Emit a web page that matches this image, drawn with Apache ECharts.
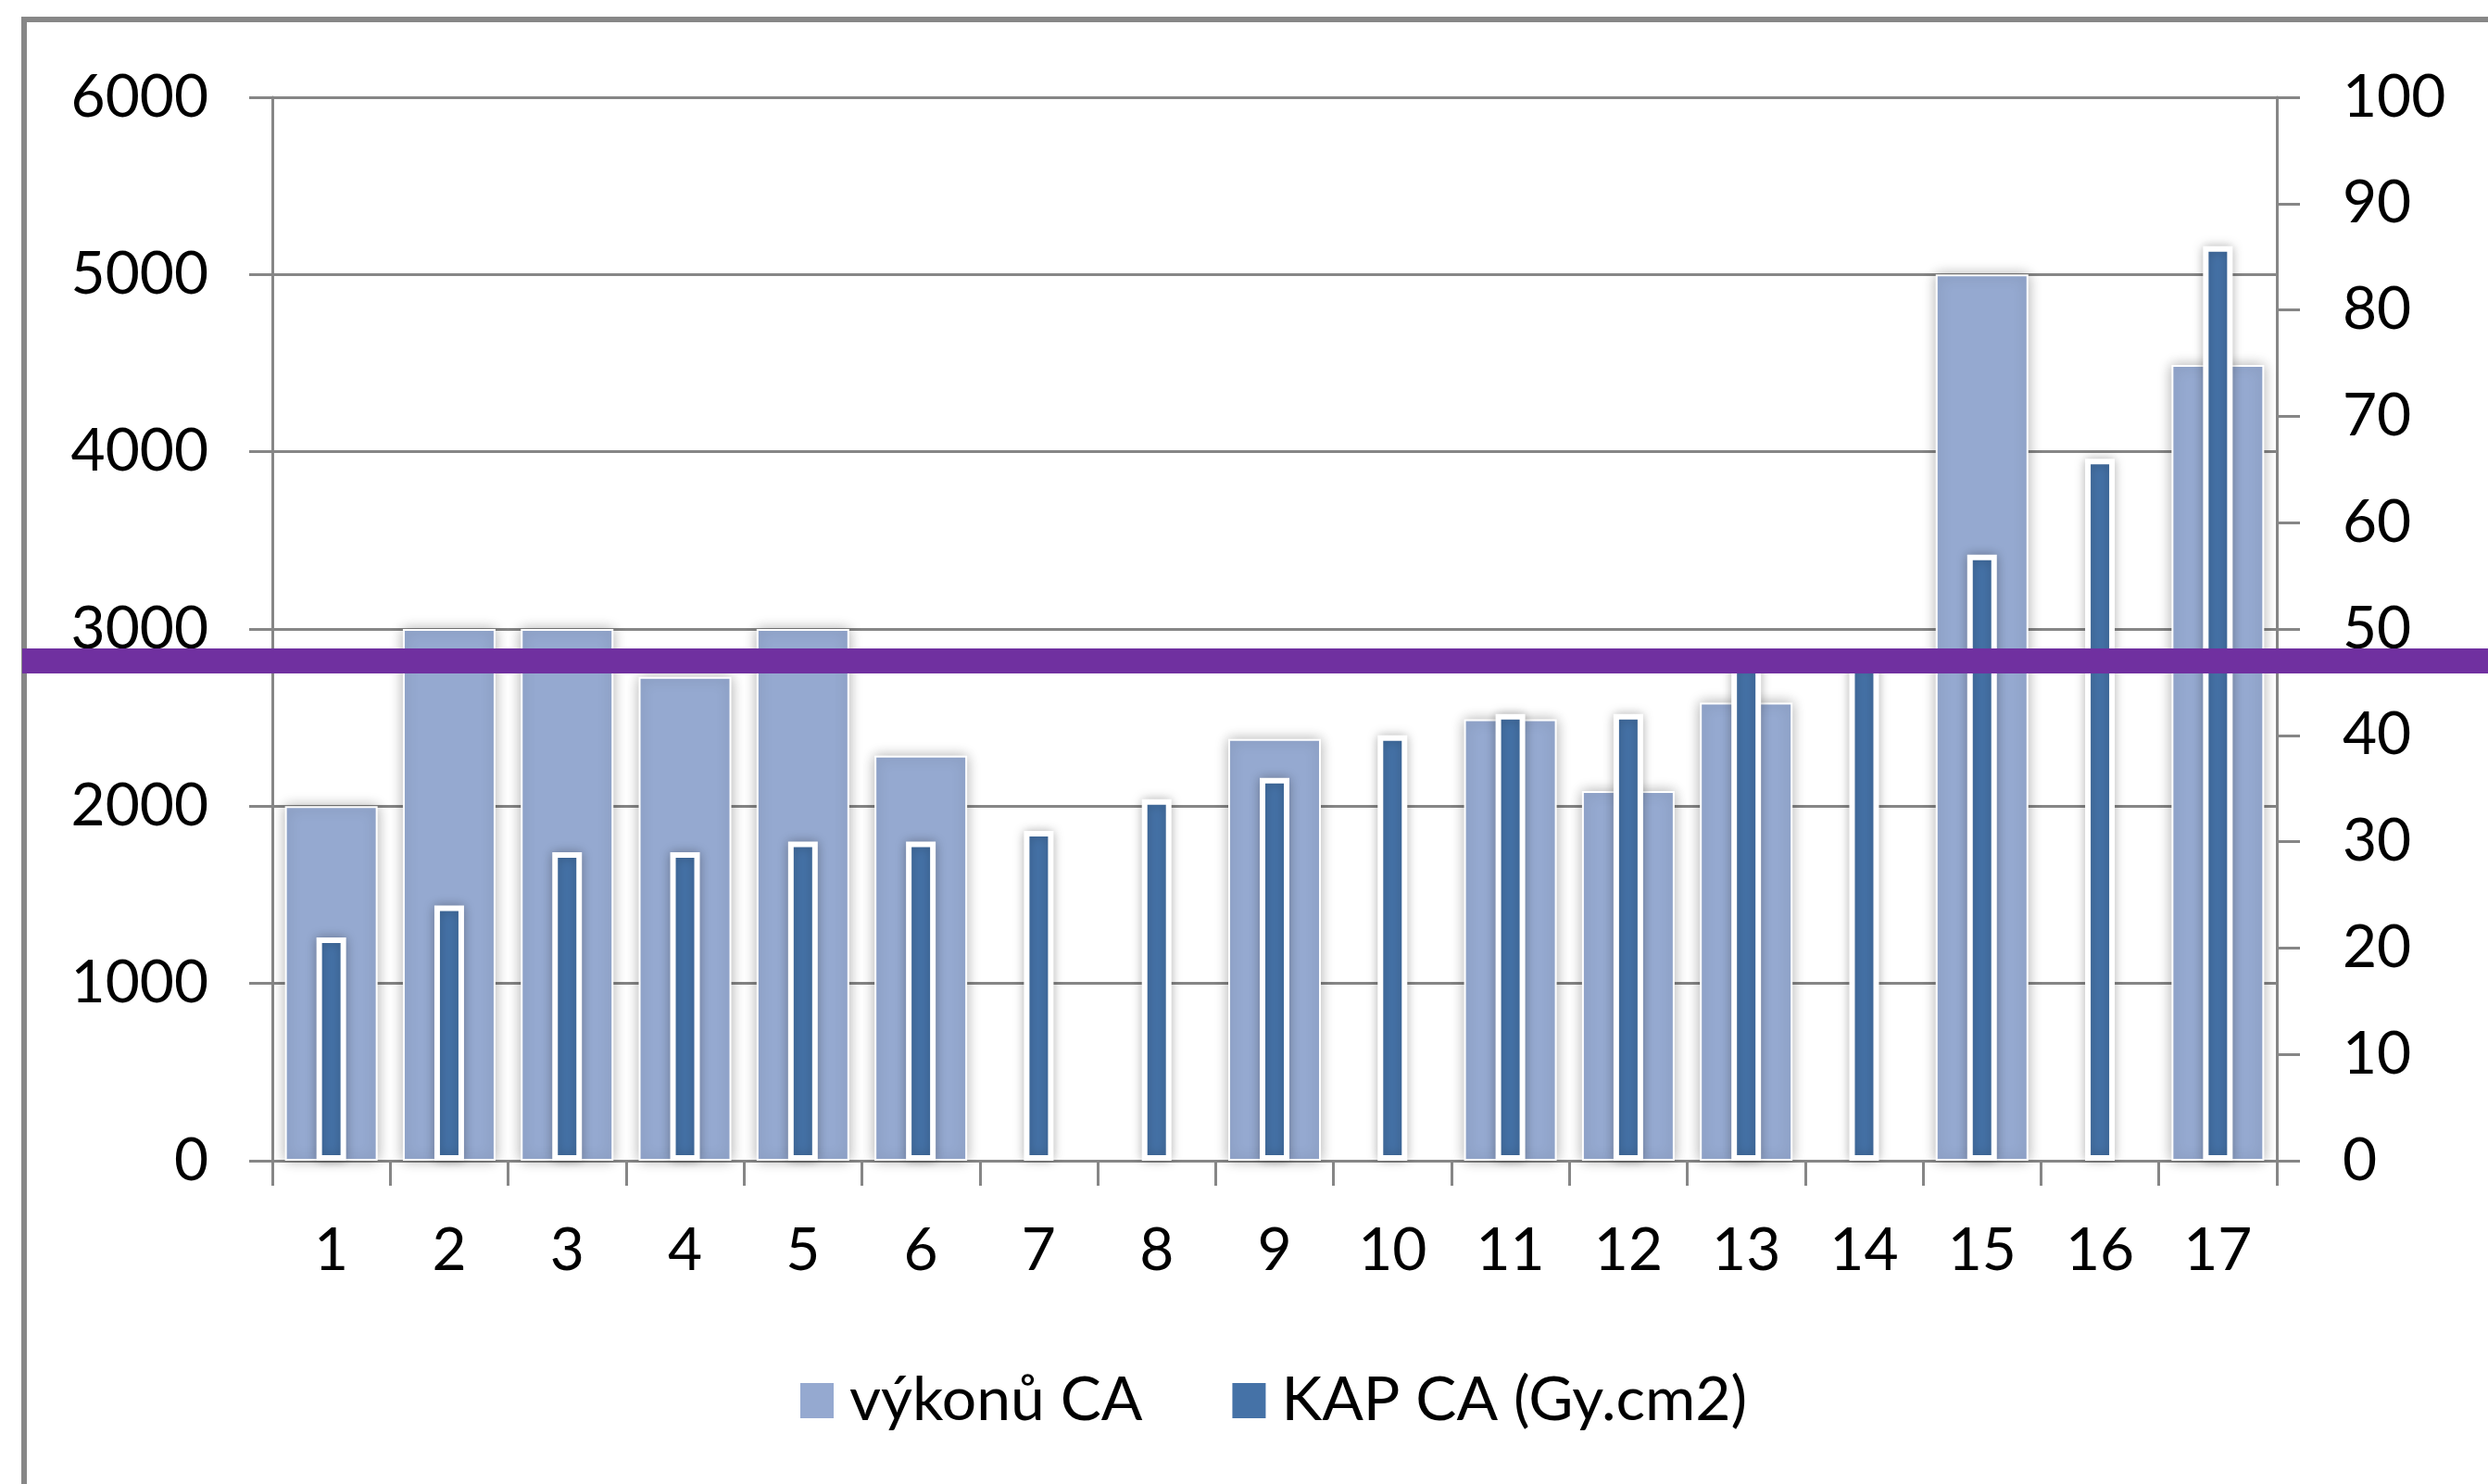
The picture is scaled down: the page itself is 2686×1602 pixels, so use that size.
<!DOCTYPE html>
<html>
<head>
<meta charset="utf-8">
<script src="https://cdn.jsdelivr.net/npm/echarts@6/dist/echarts.min.js"></script>
<style>
  html, body { margin: 0; padding: 0; background: #ffffff; }
  #frame { position: absolute; left: 23px; top: 18px; width: 2700px; height: 1700px;
           border: 6px solid #878787; box-sizing: border-box; }
  #chart { position: absolute; left: 0; top: 0; width: 2686px; height: 1602px; }
</style>
</head>
<body>
<div id="frame"></div>
<div id="chart"></div>
<script>
// ---- data ----
const categories = ['1','2','3','4','5','6','7','8','9','10','11','12','13','14','15','16','17'];
const seriesNames = ['výkonů CA', 'KAP CA (Gy.cm2)'];
const vykonuCA = [2000, 3000, 3000, 2730, 3000, 2285, null, null, 2380, null, 2490, 2085, 2585, null, 5000, null, 4490];
const kapCA = [21, 24, 29, 29, 30, 30, 31, 34, 36, 40, 42, 42, 47, 47, 57, 66, 86];
const leftTicks = { min: 0, max: 6000, interval: 1000 };
const rightTicks = { min: 0, max: 100, interval: 10 };
const referenceLevel = 47; // purple reference line, right-axis units

const FONT = 'Lato';
const GRAY = '#868686';

const chart = echarts.init(document.getElementById('chart'), null, { renderer: 'canvas' });

const option = {
  animation: false,
  backgroundColor: 'transparent',
  textStyle: { fontFamily: FONT, color: '#000' },
  grid: [
    { left: 294, right: 228, top: 105, bottom: 349, containLabel: false },
    { left: 24, right: 0, top: 105, bottom: 349, containLabel: false }
  ],
  legend: {
    data: seriesNames,
    left: 859,
    top: 1474,
    icon: 'rect',
    itemWidth: 36,
    itemHeight: 38,
    itemGap: 97,
    itemStyle: { borderWidth: 0, shadowBlur: 0 },
    textStyle: { fontFamily: FONT, fontSize: 66, color: '#000', padding: [0, 0, 0, 12] }
  },
  xAxis: [
    {
      type: 'category', gridIndex: 0, data: categories,
      axisLine: { show: true, lineStyle: { color: GRAY, width: 3 } },
      axisTick: { show: true, length: 27, alignWithLabel: false, lineStyle: { color: GRAY, width: 3 } },
      axisLabel: { fontFamily: FONT, fontSize: 64, color: '#000', margin: 65 },
      splitLine: { show: false }
    },
    {
      type: 'category', gridIndex: 0, data: categories, position: 'bottom',
      show: false
    },
    {
      type: 'value', gridIndex: 1, min: 0, max: 1, show: false
    }
  ],
  yAxis: [
    {
      type: 'value', gridIndex: 0, position: 'left',
      min: leftTicks.min, max: leftTicks.max, interval: leftTicks.interval,
      axisLine: { show: true, lineStyle: { color: GRAY, width: 3 } },
      axisTick: { show: true, length: 25, lineStyle: { color: GRAY, width: 3 } },
      axisLabel: { fontFamily: FONT, fontSize: 64, color: '#000', margin: 69,
                   formatter: function (v) { return String(v); } },
      splitLine: { show: true, lineStyle: { color: GRAY, width: 3 } }
    },
    {
      type: 'value', gridIndex: 0, position: 'right',
      min: rightTicks.min, max: rightTicks.max, interval: rightTicks.interval,
      axisLine: { show: true, lineStyle: { color: GRAY, width: 3 } },
      axisTick: { show: true, length: 25, lineStyle: { color: GRAY, width: 3 } },
      axisLabel: { fontFamily: FONT, fontSize: 64, color: '#000', margin: 71,
                   formatter: function (v) { return String(v); } },
      splitLine: { show: false }
    },
    {
      type: 'value', gridIndex: 1, min: rightTicks.min, max: rightTicks.max, show: false
    }
  ],
  series: [
    {
      name: seriesNames[0], type: 'bar', xAxisIndex: 0, yAxisIndex: 0,
      data: vykonuCA, barWidth: 100, z: 2,
      itemStyle: { color: '#95A9D0', borderColor: '#ffffff', borderWidth: 2,
                   shadowBlur: 14, shadowColor: 'rgba(0,0,0,0.30)', shadowOffsetX: 0, shadowOffsetY: 0 }
    },
    {
      name: seriesNames[1], type: 'bar', xAxisIndex: 1, yAxisIndex: 1,
      data: kapCA, barWidth: 32, z: 3,
      itemStyle: { color: '#4572A7', borderColor: '#ffffff', borderWidth: 6,
                   shadowBlur: 12, shadowColor: 'rgba(0,0,0,0.25)', shadowOffsetX: 0, shadowOffsetY: 0 }
    },
    {
      name: 'reference', type: 'line', xAxisIndex: 2, yAxisIndex: 2,
      data: [[0, referenceLevel], [1, referenceLevel]],
      symbol: 'none', z: 10, silent: true,
      lineStyle: { color: '#7030A0', width: 27 }
    }
  ]
};

chart.setOption(option);
</script>
</body>
</html>
